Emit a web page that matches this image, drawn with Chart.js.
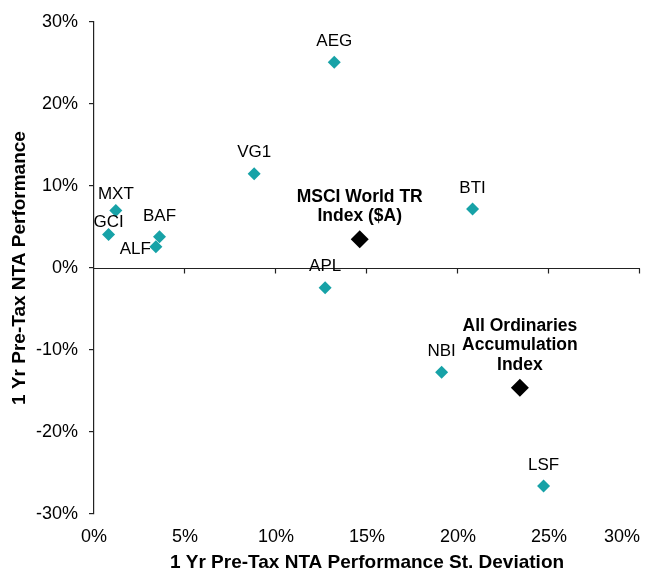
<!DOCTYPE html>
<html>
<head>
<meta charset="utf-8">
<script src="https://cdn.jsdelivr.net/npm/chart.js@4.4.0/dist/chart.umd.min.js"></script>
<style>
  html, body { margin: 0; padding: 0; background: #fff; }
  #wrap { width: 657px; height: 571px; position: relative; }
</style>
</head>
<body>
<div id="wrap"><canvas id="c" width="657" height="571"></canvas></div>
<script>
// ---- Data ----
const fundNames = ['AEG', 'VG1', 'MXT', 'GCI', 'BAF', 'ALF', 'BTI', 'APL', 'NBI', 'LSF'];
const fundX = [13.2, 8.8, 1.2, 0.8, 3.6, 3.4, 20.8, 12.7, 19.1, 24.7];
const fundY = [25.1, 11.5, 7.0, 4.1, 3.8, 2.6, 7.2, -2.4, -12.7, -26.6];

const indexNames = [['MSCI World TR', 'Index ($A)'], ['All Ordinaries', 'Accumulation', 'Index']];
const indexX = [14.6, 23.4];
const indexY = [3.5, -14.6];

const xTicks = [0, 5, 10, 15, 20, 25, 30];
const yTicks = [-30, -20, -10, 0, 10, 20, 30];

const xTitle = '1 Yr Pre-Tax NTA Performance St. Deviation';
const yTitle = '1 Yr Pre-Tax NTA Performance';

// ---- Styling / placement (not data) ----
const FONT = "Arial, 'Liberation Sans', Helvetica, sans-serif";
const TEAL = '#17A2A7';
const labelPlacement = { ALF: { align: 'left' }, GCI: { gap: 12 }, MXT: { gap: 16 } };

const zeroAxisPlugin = {
  id: 'zeroAxis',
  beforeDraw(chart) {
    // keep the last x tick label inside the canvas (right-aligned on its tick)
    const items = chart.scales.x.getLabelItems();
    if (items.length) {
      items[items.length - 1].options.textAlign = 'right';
    }
  },
  beforeDatasetsDraw(chart) {
    const { ctx, chartArea, scales } = chart;
    const y0 = Math.round(scales.y.getPixelForValue(0)) + 0.5;
    ctx.save();
    ctx.strokeStyle = '#222';
    ctx.lineWidth = 1.2;
    ctx.beginPath();
    ctx.moveTo(chartArea.left, y0);
    ctx.lineTo(chartArea.right, y0);
    xTicks.forEach(v => {
      if (v === 0) return;
      const px = Math.round(scales.x.getPixelForValue(v)) - 0.5;
      ctx.moveTo(px, y0);
      ctx.lineTo(px, y0 + 5);
    });
    ctx.stroke();
    ctx.restore();
  }
};

const pointLabelsPlugin = {
  id: 'pointLabels',
  afterDatasetsDraw(chart) {
    const { ctx } = chart;
    ctx.save();
    ctx.fillStyle = '#000';
    const m0 = chart.getDatasetMeta(0);
    ctx.font = '17px ' + FONT;
    m0.data.forEach((el, i) => {
      const name = fundNames[i];
      const p = labelPlacement[name] || {};
      if (p.align === 'left') {
        ctx.textAlign = 'right';
        ctx.textBaseline = 'middle';
        ctx.fillText(name, el.x - 5, el.y + 3);
      } else {
        ctx.textAlign = 'center';
        ctx.textBaseline = 'middle';
        ctx.fillText(name, el.x, el.y - (p.gap || 21));
      }
    });
    const m1 = chart.getDatasetMeta(1);
    ctx.font = 'bold 17.5px ' + FONT;
    ctx.textAlign = 'center';
    ctx.textBaseline = 'middle';
    m1.data.forEach((el, i) => {
      const lines = indexNames[i];
      const lh = 19.5;
      const n = lines.length;
      lines.forEach((t, k) => {
        ctx.fillText(t, el.x, el.y - 23 - (n - 1 - k) * lh);
      });
    });
    ctx.restore();
  }
};

new Chart(document.getElementById('c'), {
  type: 'scatter',
  data: {
    datasets: [
      {
        label: 'Funds',
        data: fundX.map((x, i) => ({ x: x, y: fundY[i] })),
        pointStyle: 'rectRot',
        radius: 6.5,
        hoverRadius: 6.5,
        backgroundColor: TEAL,
        borderColor: TEAL,
        borderWidth: 0
      },
      {
        label: 'Indices',
        data: indexX.map((x, i) => ({ x: x, y: indexY[i] })),
        pointStyle: 'rectRot',
        radius: 9,
        hoverRadius: 9,
        backgroundColor: '#000',
        borderColor: '#000',
        borderWidth: 0
      }
    ]
  },
  options: {
    responsive: false,
    animation: false,
    devicePixelRatio: 1,
    layout: { padding: { top: 22, right: 17, bottom: 0, left: 0 } },
    plugins: { legend: { display: false }, tooltip: { enabled: false } },
    scales: {
      x: {
        type: 'linear',
        min: 0, max: 30,
        afterBuildTicks: s => { s.ticks = xTicks.map(v => ({ value: v })); },
        afterFit: s => { s.height = 57; s.paddingRight = 0; s.paddingLeft = 0; },
        grid: { display: false, drawTicks: false },
        border: { display: false },
        ticks: {
          padding: 12,
          color: '#000',
          font: { family: FONT, size: 18 },
          callback: v => v + '%'
        },
        title: {
          display: true,
          text: xTitle,
          color: '#000',
          font: { family: FONT, size: 19, weight: 'bold', lineHeight: 0.9 },
          padding: { top: 0, bottom: 0 }
        }
      },
      y: {
        type: 'linear',
        min: -30, max: 30,
        afterBuildTicks: s => { s.ticks = yTicks.map(v => ({ value: v })); },
        afterFit: s => { s.width = 94; },
        grid: { drawOnChartArea: false, drawTicks: true, tickLength: 5, color: '#222', lineWidth: 1.2 },
        border: { display: true, color: '#222', width: 1.2 },
        ticks: {
          padding: 11,
          color: '#000',
          font: { family: FONT, size: 18 },
          callback: v => v + '%'
        },
        title: {
          display: true,
          text: yTitle,
          color: '#000',
          font: { family: FONT, size: 19, weight: 'bold', lineHeight: 1 },
          padding: { top: 10, bottom: 0 }
        }
      }
    }
  },
  plugins: [zeroAxisPlugin, pointLabelsPlugin]
});
</script>
</body>
</html>
